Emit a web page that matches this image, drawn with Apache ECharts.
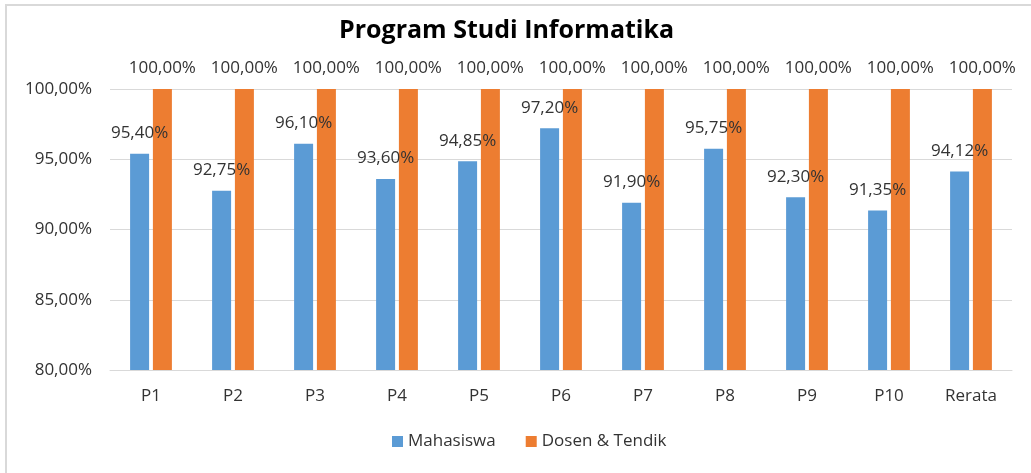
<!DOCTYPE html>
<html>
<head>
<meta charset="utf-8">
<script src="https://cdn.jsdelivr.net/npm/echarts@6/dist/echarts.min.js"></script>
<style>
html, body { margin: 0; padding: 0; background: #fff; }
#chart { width: 1031px; height: 473px; }
</style>
</head>
<body>
<div id="chart"></div>
<script>
// data
var categories = ['P1', 'P2', 'P3', 'P4', 'P5', 'P6', 'P7', 'P8', 'P9', 'P10', 'Rerata'];
var mahasiswa = [95.40, 92.75, 96.10, 93.60, 94.85, 97.20, 91.90, 95.75, 92.30, 91.35, 94.12];
var dosen = [100, 100, 100, 100, 100, 100, 100, 100, 100, 100, 100];
var yTicks = [80, 85, 90, 95, 100];

var font = '"Open Sans", sans-serif';
var textColor = '#333';

function pct(v) {
    return v.toFixed(2).replace('.', ',') + '%';
}

var chart = echarts.init(document.getElementById('chart'), null, { renderer: 'canvas' });

var option = {
    backgroundColor: '#fff',
    animation: false,
    title: {
        text: 'Program Studi Informatika',
        left: 334,
        top: 13,
        textStyle: {
            fontFamily: font,
            fontSize: 25,
            fontWeight: 'bold',
            color: '#000'
        }
    },
    graphic: [
        {
            type: 'rect',
            shape: { x: 6, y: 5, width: 1040, height: 480 },
            style: { fill: 'none', stroke: '#d9d9d9', lineWidth: 2 },
            silent: true
        }
    ],
    legend: {
        bottom: 18,
        left: 387,
        itemWidth: 11,
        itemHeight: 11,
        itemGap: 30,
        icon: 'rect',
        textStyle: { fontFamily: font, fontSize: 17, color: textColor },
        data: ['Mahasiswa', 'Dosen & Tendik']
    },
    grid: {
        left: 110,
        right: 19,
        top: 89,
        bottom: 103
    },
    xAxis: {
        type: 'category',
        data: categories,
        axisTick: { show: false },
        axisLine: { lineStyle: { color: '#d9d9d9', width: 1 } },
        axisLabel: {
            fontFamily: font,
            fontSize: 17,
            color: textColor,
            margin: 18
        }
    },
    yAxis: {
        type: 'value',
        min: yTicks[0],
        max: yTicks[yTicks.length - 1],
        interval: 5,
        axisLine: { show: false },
        axisTick: { show: false },
        splitLine: { lineStyle: { color: '#d9d9d9', width: 1 } },
        axisLabel: {
            fontFamily: font,
            fontSize: 17,
            color: textColor,
            margin: 18,
            formatter: function (v) { return pct(v); }
        }
    },
    series: [
        {
            name: 'Mahasiswa',
            type: 'bar',
            data: mahasiswa,
            barWidth: 19,
            barGap: '20%',
            itemStyle: { color: '#5b9bd5' },
            label: {
                show: true,
                position: 'top',
                distance: 12,
                fontFamily: font,
                fontSize: 17,
                color: textColor,
                formatter: function (p) { return pct(p.value); }
            }
        },
        {
            name: 'Dosen & Tendik',
            type: 'bar',
            data: dosen,
            barWidth: 19,
            itemStyle: { color: '#ed7d31' },
            label: {
                show: true,
                position: 'top',
                distance: 12,
                fontFamily: font,
                fontSize: 17,
                color: textColor,
                formatter: function (p) { return pct(p.value); }
            }
        }
    ]
};

chart.setOption(option);
</script>
</body>
</html>
